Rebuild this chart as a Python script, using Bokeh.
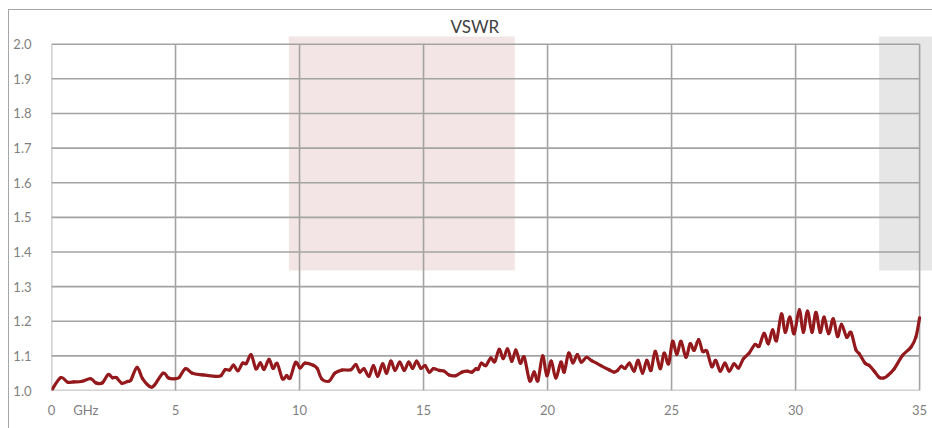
from bokeh.plotting import figure
from bokeh.models import Range1d, FixedTicker, PrintfTickFormatter, Title
from bokeh.embed import file_html
from bokeh.resources import INLINE

# Frequency (GHz) and VSWR
freq = [0.0, 0.37, 0.65, 0.9, 1.2, 1.58, 1.79, 2.05, 2.28, 2.46, 2.62, 2.83, 3.06, 3.2, 3.45,
        3.67, 3.97, 4.14, 4.5, 4.72, 4.98, 5.15, 5.4, 5.68, 6.1, 6.6, 6.83, 7.0, 7.18, 7.34,
        7.52, 7.7, 7.85, 8.05, 8.24, 8.42, 8.57, 8.77, 8.93, 9.1, 9.31, 9.48, 9.62, 9.84,
        10.02, 10.22, 10.55, 10.72, 10.89, 11.19, 11.42, 11.7, 12.07, 12.27, 12.43, 12.6,
        12.8, 12.98, 13.15, 13.35, 13.51, 13.68, 13.85, 14.04, 14.22, 14.4, 14.56, 14.72,
        14.89, 15.06, 15.23, 15.4, 15.63, 15.83, 16.03, 16.3, 16.54, 16.77, 16.95, 17.11,
        17.2, 17.33, 17.51, 17.71, 17.87, 18.05, 18.21, 18.39, 18.56, 18.72, 18.9, 19.06,
        19.28, 19.46, 19.61, 19.8, 19.97, 20.15, 20.33, 20.54, 20.67, 20.85, 21.02, 21.2,
        21.36, 21.57, 21.78, 22.15, 22.48, 22.68, 22.82, 22.97, 23.13, 23.3, 23.49, 23.65,
        23.83, 24.0, 24.17, 24.34, 24.54, 24.7, 24.88, 25.04, 25.21, 25.38, 25.58, 25.75,
        25.91, 26.09, 26.25, 26.42, 26.62, 26.78, 26.96, 27.15, 27.32, 27.52, 27.7, 27.9,
        28.13, 28.36, 28.53, 28.73, 28.9, 29.07, 29.23, 29.43, 29.58, 29.77, 29.94, 30.15,
        30.31, 30.48, 30.66, 30.82, 30.99, 31.15, 31.33, 31.52, 31.69, 31.85, 32.06, 32.23,
        32.43, 32.57, 32.8, 32.97, 33.17, 33.37, 33.55, 33.71, 33.98, 34.31, 34.65, 34.85, 35.0]
vswr = [1.000, 1.037, 1.024, 1.025, 1.026, 1.034, 1.022, 1.022, 1.046, 1.037, 1.037, 1.021,
        1.026, 1.030, 1.067, 1.034, 1.011, 1.015, 1.050, 1.036, 1.034, 1.038, 1.063, 1.050,
        1.045, 1.041, 1.043, 1.060, 1.059, 1.073, 1.057, 1.079, 1.078, 1.103, 1.063, 1.080,
        1.061, 1.090, 1.064, 1.078, 1.034, 1.043, 1.036, 1.081, 1.065, 1.079, 1.073, 1.063,
        1.034, 1.027, 1.050, 1.059, 1.060, 1.075, 1.053, 1.063, 1.041, 1.072, 1.041, 1.077,
        1.050, 1.085, 1.058, 1.082, 1.058, 1.082, 1.064, 1.085, 1.064, 1.072, 1.053, 1.063,
        1.058, 1.056, 1.045, 1.043, 1.053, 1.056, 1.053, 1.063, 1.061, 1.079, 1.072, 1.094,
        1.083, 1.119, 1.092, 1.120, 1.084, 1.117, 1.079, 1.096, 1.028, 1.054, 1.028, 1.100,
        1.043, 1.085, 1.036, 1.082, 1.053, 1.108, 1.080, 1.104, 1.082, 1.096, 1.086, 1.072,
        1.060, 1.053, 1.058, 1.070, 1.064, 1.079, 1.056, 1.087, 1.050, 1.087, 1.058, 1.113,
        1.063, 1.108, 1.077, 1.142, 1.104, 1.142, 1.096, 1.135, 1.116, 1.147, 1.113, 1.114,
        1.069, 1.087, 1.056, 1.079, 1.056, 1.077, 1.065, 1.092, 1.108, 1.133, 1.128, 1.165,
        1.135, 1.175, 1.144, 1.221, 1.168, 1.212, 1.164, 1.233, 1.168, 1.229, 1.168, 1.226,
        1.168, 1.212, 1.164, 1.207, 1.156, 1.191, 1.154, 1.168, 1.118, 1.106, 1.079, 1.072,
        1.056, 1.038, 1.036, 1.043, 1.063, 1.101, 1.125, 1.154, 1.210]

x_ticks = [0, 5, 10, 15, 20, 25, 30, 35]
y_ticks = [1.0, 1.1, 1.2, 1.3, 1.4, 1.5, 1.6, 1.7, 1.8, 1.9, 2.0]
unit_tick = 1.38
unit_label = "GHz"

# shaded bands: [left, right, bottom, top]
band_left = [9.57, 33.37]
band_right = [18.68, 35.6]
band_bottom = [1.3465, 1.3465]
band_top = [2.03, 2.03]
band_colors = ["#f3e5e5", "#e6e6e6"]

FONT = "Lato"
GRID = "#a3a3a3"
LABEL = "#7f7f7f"
BORDER = "#a6a6a6"

p = figure(width=932, height=428, output_backend="svg", toolbar_location=None,
           x_range=Range1d(0, 35.52), y_range=Range1d(1.0, 2.0222),
           min_border_left=51, min_border_right=0, min_border_top=36, min_border_bottom=38,
           background_fill_color="white", border_fill_color=None)
p.outline_line_color = None
p.xgrid.visible = False
p.ygrid.visible = False
# outer chart-area border on the left and top (the rest lies past the window)
p.styles = {
    "background": (f"linear-gradient({BORDER},{BORDER}) 8px 9px / 1px 100% no-repeat, "
                   f"linear-gradient({BORDER},{BORDER}) 8px 9px / 100% 1px no-repeat, white"),
}

p.title = Title(text="VSWR", align="left", offset=399, text_font=FONT, text_font_size="17px",
                text_font_style="normal", text_color="#404040", standoff=0, vertical_align="bottom")

p.quad(left=band_left, right=band_right, bottom=band_bottom, top=band_top,
       fill_color=band_colors, line_color=None)

# grid lines limited to the data area
x0, x1 = x_ticks[0], x_ticks[-1]
y0, y1 = y_ticks[0], y_ticks[-1]
p.segment(x0=x_ticks, x1=x_ticks, y0=[y0] * len(x_ticks), y1=[y1] * len(x_ticks),
          line_color=GRID, line_width=1.6)
p.segment(x0=[x0] * len(y_ticks), x1=[x1] * len(y_ticks), y0=y_ticks, y1=y_ticks,
          line_color=GRID, line_width=1.6)

# smoothed line (like a spreadsheet "smoothed line"): cubic Bezier segments through the points
n = len(freq)
bx0, by0, bx1, by1, c0x, c0y, c1x, c1y = [], [], [], [], [], [], [], []
for i in range(n - 1):
    a = max(i - 1, 0)
    d = min(i + 2, n - 1)
    bx0.append(freq[i]); by0.append(vswr[i])
    bx1.append(freq[i + 1]); by1.append(vswr[i + 1])
    c0x.append(freq[i] + (freq[i + 1] - freq[a]) / 6)
    c0y.append(vswr[i] + (vswr[i + 1] - vswr[a]) / 6)
    c1x.append(freq[i + 1] - (freq[d] - freq[i]) / 6)
    c1y.append(vswr[i + 1] - (vswr[d] - vswr[i]) / 6)
p.bezier(x0=bx0, y0=by0, x1=bx1, y1=by1, cx0=c0x, cy0=c0y, cx1=c1x, cy1=c1y,
         line_color="#94191d", line_width=3.2, line_cap="round")

for ax in (p.xaxis[0], p.yaxis[0]):
    ax.axis_line_color = None
    ax.major_tick_line_color = None
    ax.minor_tick_line_color = None
    ax.major_label_text_font = FONT
    ax.major_label_text_font_size = "13px"
    ax.major_label_text_color = LABEL

p.xaxis[0].ticker = FixedTicker(ticks=x_ticks + [unit_tick])
p.xaxis[0].formatter = PrintfTickFormatter(format="%d")
p.xaxis[0].major_label_overrides = {unit_tick: unit_label}
p.xaxis[0].major_label_standoff = 5
p.yaxis[0].ticker = FixedTicker(ticks=y_ticks)
p.yaxis[0].formatter = PrintfTickFormatter(format="%.1f")
p.yaxis[0].major_label_standoff = 14

open("out.html", "w").write(file_html(p, INLINE))
